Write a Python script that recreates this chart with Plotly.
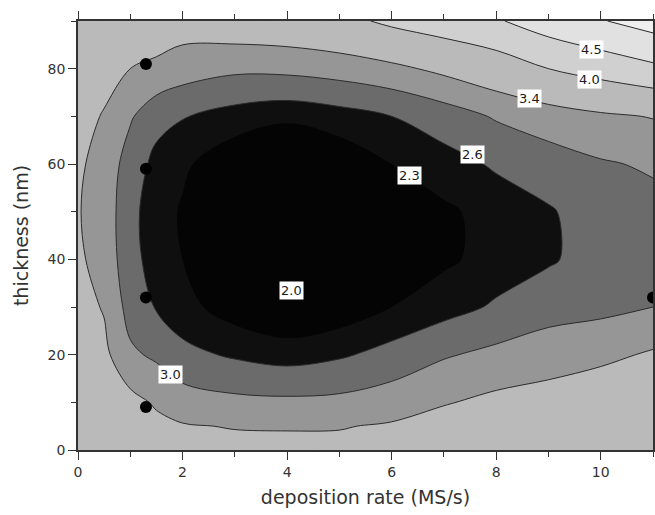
import plotly.graph_objects as go

# ---- data ----
x_rate = [0, 0.5, 1, 1.5, 2, 3, 4, 5, 6, 7, 8, 9, 10, 11]          # deposition rate (MS/s)
y_thick = [0, 5, 10, 20, 30, 40, 50, 60, 70, 80, 90]              # thickness (nm)

# z values, one row per thickness (rows follow y_thick, columns follow x_rate)
z_y0  = [3.85, 3.80, 3.72, 3.65, 3.58, 3.52, 3.52, 3.50, 3.60, 3.72, 3.82, 3.86, 3.90, 3.94]
z_y5  = [3.80, 3.72, 3.60, 3.50, 3.43, 3.38, 3.37, 3.38, 3.44, 3.58, 3.70, 3.78, 3.84, 3.90]
z_y10 = [3.75, 3.65, 3.53, 3.35, 3.20, 3.10, 3.08, 3.10, 3.22, 3.37, 3.50, 3.58, 3.70, 3.82]
z_y20 = [3.65, 3.50, 3.07, 2.93, 2.70, 2.55, 2.45, 2.55, 2.72, 2.96, 3.10, 3.20, 3.30, 3.45]
z_y30 = [3.55, 3.37, 2.85, 2.57, 2.40, 2.15, 2.02, 2.10, 2.30, 2.45, 2.65, 2.85, 2.90, 3.00]
z_y40 = [3.45, 3.28, 2.72, 2.45, 2.30, 2.00, 1.90, 1.95, 2.10, 2.25, 2.40, 2.55, 2.78, 2.85]
z_y50 = [3.42, 3.25, 2.70, 2.42, 2.27, 1.98, 1.88, 1.95, 2.10, 2.25, 2.40, 2.56, 2.80, 2.88]
z_y60 = [3.45, 3.28, 2.80, 2.50, 2.35, 2.10, 2.00, 2.10, 2.30, 2.45, 2.65, 2.82, 2.96, 3.05]
z_y70 = [3.55, 3.37, 3.05, 2.72, 2.62, 2.45, 2.35, 2.45, 2.60, 2.80, 3.04, 3.20, 3.33, 3.42]
z_y80 = [3.70, 3.55, 3.40, 3.35, 3.20, 3.08, 3.10, 3.18, 3.30, 3.50, 3.72, 4.00, 4.20, 4.40]
z_y90 = [3.80, 3.70, 3.60, 3.55, 3.60, 3.70, 3.75, 3.85, 4.10, 4.28, 4.45, 4.75, 4.97, 5.20]

contour_levels = [2.0, 2.3, 2.6, 3.0, 3.4, 4.0, 4.5, 5.0]
band_grays = ["#040404", "#040404", "#0f0f0f", "#6b6b6b", "#969696", "#bababa",
              "#d0d0d0", "#e1e1e1", "#efefef"]   # below 2.0, 2.0-2.3, ..., above 5.0

# measured sample points
pt_x = [1.3, 1.3, 1.3, 1.3, 11.0]
pt_y = [81, 59, 32, 9, 32]

# contour labels
label_text = ["4.5", "4.0", "3.4", "2.6", "2.3", "2.0", "3.0"]
label_x = [9.83, 9.79, 8.64, 7.55, 6.35, 4.09, 1.76]
label_y = [84.1, 77.7, 73.7, 62.0, 57.6, 33.4, 15.9]

z_grid = [z_y0, z_y5, z_y10, z_y20, z_y30, z_y40, z_y50, z_y60, z_y70, z_y80, z_y90]

# ---- build a stepped colorscale matching plotly's fill colour mapping ----
c_start, c_end, c_size = 2.0, 5.0, 0.1
v_lo, v_hi = c_start - c_size / 2, c_end + c_size / 2


def frac(v):
    return min(max((v - v_lo) / (v_hi - v_lo), 0.0), 1.0)


colorscale = []
edges = [v_lo] + contour_levels + [v_hi]
for i, col in enumerate(band_grays):
    colorscale.append([frac(edges[i]), col])
    colorscale.append([frac(edges[i + 1]), col])
colorscale[0][0] = 0.0
colorscale[-1][0] = 1.0

fig = go.Figure()
fig.add_trace(go.Contour(
    x=x_rate, y=y_thick, z=z_grid,
    contours=dict(start=c_start, end=c_end, size=c_size, coloring="fill", showlines=False),
    colorscale=colorscale, showscale=False,
    line=dict(width=0, smoothing=1.0),
    hoverinfo="skip",
))

for lev in contour_levels[2:]:
    fig.add_trace(go.Contour(
        x=x_rate, y=y_thick, z=z_grid,
        contours=dict(type="constraint", operation="=", value=lev),
        line=dict(color="#2b2b2b", width=1, smoothing=1.0),
        showscale=False, hoverinfo="skip", showlegend=False,
    ))

fig.add_trace(go.Scatter(
    x=pt_x, y=pt_y, mode="markers",
    marker=dict(color="black", size=12),
    cliponaxis=False, showlegend=False, hoverinfo="skip",
))

for t, lx, ly in zip(label_text, label_x, label_y):
    fig.add_annotation(x=lx, y=ly, text=t, showarrow=False,
                       font=dict(family="DejaVu Sans", size=13, color="#1a1a1a"),
                       bgcolor="white", borderpad=1)

axis_common = dict(
    ticks="outside", ticklen=8, tickwidth=1.2, tickcolor="#333",
    showline=True, linecolor="#333", linewidth=1.5, mirror="allticks",
    showgrid=False, zeroline=False, automargin=False,
    tickfont=dict(family="DejaVu Sans", size=14, color="#333"),
)

fig.update_layout(
    width=655, height=515,
    margin=dict(l=78, r=2, t=21, b=65),
    paper_bgcolor="white", plot_bgcolor="white",
    showlegend=False,
    xaxis=dict(range=[0, 11], tick0=0, dtick=2,
               minor=dict(dtick=1, ticks="outside", ticklen=5, tickcolor="#333"),
               title=dict(text="deposition rate (MS/s)", standoff=12,
                          font=dict(family="DejaVu Sans", size=19, color="#333")),
               **axis_common),
    yaxis=dict(range=[0, 90], tick0=0, dtick=20,
               minor=dict(dtick=10, ticks="outside", ticklen=5, tickcolor="#333"),
               title=dict(text="thickness (nm)", standoff=14,
                          font=dict(family="DejaVu Sans", size=19, color="#333")),
               **axis_common),
)

fig.write_html("out.html",
               config={"displayModeBar": False},
               post_script="document.body.style.margin='0';document.body.style.padding='0';")
